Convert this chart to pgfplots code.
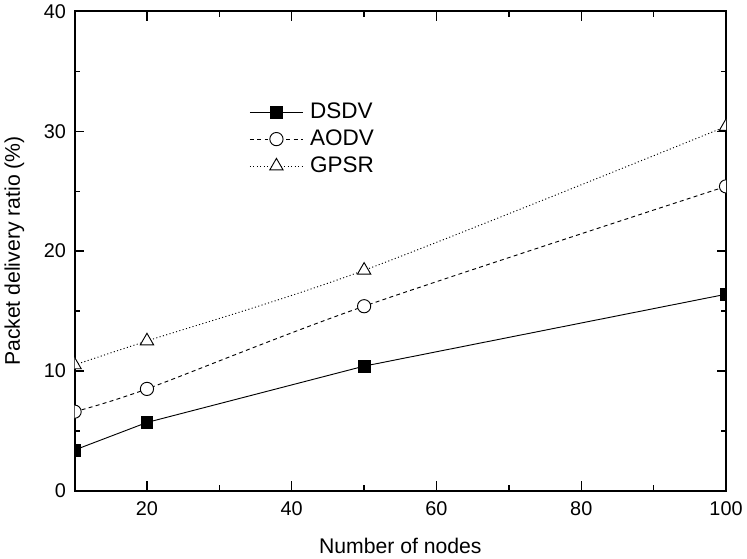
\documentclass[border=0pt]{standalone}
\usepackage{fontspec}
\setmainfont{Liberation Sans}
\usepackage{pgfplots}
\pgfplotsset{compat=1.18}

\begin{document}
\begin{tikzpicture}
\begin{axis}[
  scale only axis,
  width=492pt, height=362pt,
  xmin=10, xmax=100, ymin=0, ymax=40,
  xtick={20,40,60,80,100}, ytick={0,10,20,30,40},
  minor x tick num=1, minor y tick num=1,
  tick align=inside,
  major tick length=7pt, minor tick length=4pt,
  every tick/.style={black, line width=1pt},
  axis line style={line width=1.5pt},
  clip marker paths=true,
  /pgf/number format/assume math mode=true,
  tick label style={font=\fontsize{15}{17}\selectfont},
  xticklabel style={yshift=-5pt},
  yticklabel style={xshift=-3pt},
  label style={font=\fontsize{16}{18}\selectfont},
  xlabel={Number of nodes}, ylabel={Packet delivery ratio (\%)},
  xlabel style={yshift=-10pt},
  ylabel style={yshift=8pt},
  legend style={draw=none, fill=none, at={(0.262,0.82)}, anchor=north west,
    font=\fontsize{17}{19}\selectfont, row sep=3pt,
    nodes={inner xsep=5pt}},
  legend cell align=left,
  legend image code/.code={
    \draw[#1] (0pt,0pt) -- (40pt,0pt);
    \draw[#1, solid] plot coordinates {(20pt,0pt)};
  },
]
\addplot[black, line width=0.7pt, mark=square*, mark size=4.5pt] coordinates {
 (10,3.4)(20,5.7)(50,10.4)(100,16.4)};
\addlegendentry{DSDV}
\addplot[black, line width=0.7pt, smooth, dash pattern=on 3pt off 2.5pt,
  mark=*, mark size=5pt, mark options={fill=white, solid}] coordinates {
 (10,6.6)(20,8.5)(50,15.4)(100,25.4)};
\addlegendentry{AODV}
\addplot[black, line width=0.7pt, smooth, dash pattern=on 0.8pt off 1.8pt,
  mark=triangle*, mark size=5.8pt, mark options={fill=white, solid}] coordinates {
 (10,10.5)(20,12.5)(50,18.4)(100,30.4)};
\addlegendentry{GPSR}
\end{axis}
\end{tikzpicture}
\end{document}
